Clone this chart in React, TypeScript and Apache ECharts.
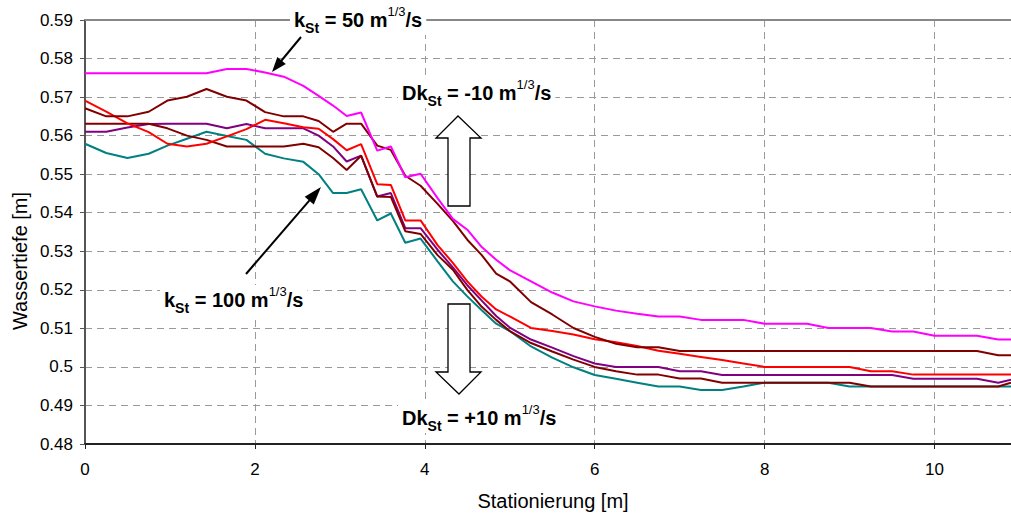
import React, { useEffect, useRef } from "react";
import * as echarts from "echarts";

const FONT = "'Liberation Sans', Arial, sans-serif";

// Stationen entlang der Rinne [m]
const stations = [
  0, 0.25, 0.5, 0.75, 0.97, 1.2, 1.43, 1.67, 1.9, 2.12, 2.34, 2.57, 2.75, 2.92,
  3.08, 3.25, 3.44, 3.6, 3.77, 3.95, 4.15, 4.33, 4.5, 4.67, 4.84, 5.0, 5.25, 5.5,
  5.75, 6.0, 6.25, 6.5, 6.75, 7.0, 7.25, 7.5, 7.75, 8.0, 8.25, 8.5, 8.75, 9.0,
  9.25, 9.5, 9.75, 10.0, 10.25, 10.5, 10.75, 10.9,
];

// Wassertiefen [m], kSt = 50 m^1/3/s
const depthK50 = [
  0.5762, 0.5762, 0.5762, 0.5762, 0.5762, 0.5762, 0.5762, 0.5773, 0.5773, 0.5764,
  0.5753, 0.5729, 0.5703, 0.5678, 0.5651, 0.566, 0.5561, 0.5572, 0.5492, 0.5501,
  0.5438, 0.5384, 0.5356, 0.5311, 0.5278, 0.5251, 0.5222, 0.5193, 0.517, 0.5157,
  0.5146, 0.5138, 0.5131, 0.5131, 0.5122, 0.5122, 0.5122, 0.5112, 0.5112, 0.5112,
  0.5101, 0.5101, 0.5101, 0.5092, 0.5092, 0.5081, 0.5081, 0.5081, 0.5071, 0.5071,
];

// Wassertiefen [m], Variante A (dunkelrot, oben)
const depthVarA = [
  0.5671, 0.565, 0.565, 0.5662, 0.5691, 0.5701, 0.5721, 0.5701, 0.5691, 0.5661,
  0.565, 0.565, 0.5638, 0.561, 0.5631, 0.5631, 0.5574, 0.5563, 0.5496, 0.547,
  0.5423, 0.5379, 0.533, 0.529, 0.5242, 0.5222, 0.5168, 0.5136, 0.5101, 0.5078,
  0.506, 0.5051, 0.5051, 0.5041, 0.5041, 0.5041, 0.5041, 0.5041, 0.5041, 0.5041,
  0.5041, 0.5041, 0.5041, 0.5041, 0.5041, 0.5041, 0.5041, 0.5041, 0.503, 0.503,
];

// Wassertiefen [m], Variante B (rot)
const depthVarB = [
  0.5691, 0.5662, 0.5632, 0.5609, 0.5579, 0.5572, 0.5579, 0.5598, 0.5617, 0.5641,
  0.5632, 0.5622, 0.5618, 0.5591, 0.5562, 0.5578, 0.5474, 0.5472, 0.538, 0.538,
  0.5316, 0.527, 0.5222, 0.5182, 0.5149, 0.5131, 0.5101, 0.5093, 0.5084, 0.5072,
  0.5064, 0.5054, 0.5042, 0.5034, 0.5026, 0.5018, 0.5009, 0.5, 0.5, 0.5,
  0.5, 0.5, 0.4989, 0.4989, 0.498, 0.498, 0.498, 0.498, 0.498, 0.498,
];

// Wassertiefen [m], Variante C (dunkelrot, unten)
const depthVarC = [
  0.5631, 0.5631, 0.5631, 0.5631, 0.5619, 0.56, 0.5589, 0.5572, 0.5572, 0.5572,
  0.5572, 0.5579, 0.557, 0.5542, 0.5511, 0.5548, 0.5442, 0.5441, 0.5352, 0.5345,
  0.529, 0.5252, 0.52, 0.5156, 0.5122, 0.5093, 0.5062, 0.504, 0.5019, 0.5,
  0.4989, 0.498, 0.498, 0.497, 0.497, 0.4959, 0.4959, 0.4959, 0.4959, 0.4959,
  0.4959, 0.4959, 0.4949, 0.4949, 0.4949, 0.4949, 0.4949, 0.4949, 0.4949, 0.4959,
];

// Wassertiefen [m], Variante D (violett)
const depthVarD = [
  0.561, 0.561, 0.5621, 0.563, 0.5631, 0.5631, 0.5631, 0.5619, 0.563, 0.5619,
  0.5619, 0.5619, 0.56, 0.5572, 0.5533, 0.5548, 0.5442, 0.5451, 0.536, 0.536,
  0.5304, 0.5258, 0.5212, 0.5172, 0.5132, 0.5102, 0.5071, 0.505, 0.5028, 0.5009,
  0.5, 0.5, 0.5, 0.4989, 0.4989, 0.4979, 0.4979, 0.4979, 0.4979, 0.4979,
  0.4979, 0.4979, 0.4979, 0.4979, 0.4969, 0.4969, 0.4969, 0.4969, 0.4959, 0.4967,
];

// Wassertiefen [m], kSt = 100 m^1/3/s
const depthK100 = [
  0.5579, 0.5555, 0.5542, 0.5553, 0.5574, 0.5592, 0.561, 0.5599, 0.5589, 0.5553,
  0.5541, 0.5532, 0.55, 0.5451, 0.5451, 0.5461, 0.538, 0.5398, 0.5322, 0.5333,
  0.5274, 0.5222, 0.5183, 0.5147, 0.5112, 0.5093, 0.5053, 0.5024, 0.4999, 0.4979,
  0.4969, 0.4959, 0.4949, 0.4949, 0.494, 0.494, 0.4949, 0.4959, 0.4959, 0.4959,
  0.4959, 0.4949, 0.4949, 0.4949, 0.4949, 0.4949, 0.4949, 0.4949, 0.4949, 0.4949,
];

const seriesDefs = [
  { name: "kSt 100", color: "#008080", data: depthK100 },
  { name: "Variante D", color: "#800080", data: depthVarD },
  { name: "Variante C", color: "#800000", data: depthVarC },
  { name: "Variante B", color: "#FF0000", data: depthVarB },
  { name: "Variante A", color: "#800000", data: depthVarA },
  { name: "kSt 50", color: "#FF00FF", data: depthK50 },
];

const richLabel = {
  m: { fontFamily: FONT, fontSize: 20, fontWeight: "bold", color: "#000", lineHeight: 30, verticalAlign: "middle" },
  sub: { fontFamily: FONT, fontSize: 14, fontWeight: "bold", color: "#000", lineHeight: 14, verticalAlign: "bottom" },
  sup: { fontFamily: FONT, fontSize: 13, color: "#000", lineHeight: 14, verticalAlign: "top" },
};

function label(text: string, x: number, y: number) {
  return {
    type: "text",
    x,
    y,
    z: 100,
    style: {
      text,
      rich: richLabel,
      align: "left",
      verticalAlign: "middle",
      backgroundColor: "#fff",
      padding: [0, 4],
    },
  };
}

function arrow(x1: number, y1: number, x2: number, y2: number, len: number, w: number) {
  const dx = x2 - x1;
  const dy = y2 - y1;
  const d = Math.hypot(dx, dy);
  const ux = dx / d;
  const uy = dy / d;
  const bx = x2 - ux * len;
  const by = y2 - uy * len;
  return [
    {
      type: "line",
      z: 100,
      shape: { x1, y1, x2: bx + ux * 2, y2: by + uy * 2 },
      style: { stroke: "#000", lineWidth: 2 },
    },
    {
      type: "polygon",
      z: 100,
      shape: {
        points: [
          [x2, y2],
          [bx - (uy * w) / 2, by + (ux * w) / 2],
          [bx + (uy * w) / 2, by - (ux * w) / 2],
        ],
      },
      style: { fill: "#000" },
    },
  ];
}

function blockArrow(points: number[][]) {
  return {
    type: "polygon",
    z: 100,
    shape: { points },
    style: { fill: "#fff", stroke: "#000", lineWidth: 1.3 },
  };
}

export default function App() {
  const ref = useRef<HTMLDivElement>(null);

  useEffect(() => {
    if (!ref.current) return;
    const chart = echarts.init(ref.current, null, { renderer: "svg" });

    const gridLine = { show: true, lineStyle: { color: "#9a9a9a", width: 1, type: [7, 5] } };

    chart.setOption({
      animation: false,
      backgroundColor: "#fff",
      textStyle: { fontFamily: FONT },
      grid: { left: 85, right: 0, top: 20, bottom: 71, containLabel: false },
      xAxis: [
        {
          type: "value",
          min: 0,
          max: 10.9,
          interval: 2,
          axisLine: { show: true, onZero: false, lineStyle: { color: "#222", width: 2 } },
          axisTick: { show: true, length: 5, lineStyle: { color: "#222", width: 1 } },
          axisLabel: { fontSize: 17, color: "#000", margin: 17, showMaxLabel: false, fontFamily: FONT },
          splitLine: gridLine,
        },
        {
          type: "value",
          position: "top",
          min: 0,
          max: 10.9,
          axisLine: { show: true, lineStyle: { color: "#888", width: 2 } },
          axisTick: { show: false },
          axisLabel: { show: false },
          splitLine: { show: false },
        },
      ],
      yAxis: {
        type: "value",
        min: 0.48,
        max: 0.59,
        interval: 0.01,
        axisLine: { show: true, lineStyle: { color: "#555", width: 2 } },
        axisTick: { show: true, length: 5, lineStyle: { color: "#555", width: 1 } },
        axisLabel: {
          fontSize: 17,
          color: "#000",
          margin: 12,
          fontFamily: FONT,
          formatter: (v: number) => String(Number(v.toFixed(2))),
        },
        splitLine: gridLine,
      },
      series: seriesDefs.map((s) => ({
        name: s.name,
        type: "line",
        xAxisIndex: 0,
        symbol: "none",
        showSymbol: false,
        lineStyle: { color: s.color, width: 2 },
        itemStyle: { color: s.color },
        data: stations.map((x, i) => [x, s.data[i]]),
      })),
      graphic: [
        {
          type: "text",
          x: 20,
          y: 261,
          rotation: Math.PI / 2,
          z: 100,
          style: { text: "Wassertiefe [m]", fontFamily: FONT, fontSize: 20, fill: "#000", align: "center", verticalAlign: "middle" },
        },
        {
          type: "text",
          x: 553,
          y: 501,
          z: 100,
          style: { text: "Stationierung [m]", fontFamily: FONT, fontSize: 20, fill: "#000", align: "center", verticalAlign: "middle" },
        },
        label("{m|k}{sub|St}{m| = 50 m}{sup|1/3}{m|/s}", 290, 20),
        label("{m|Dk}{sub|St}{m| = -10 m}{sup|1/3}{m|/s}", 398, 93),
        label("{m|k}{sub|St}{m| = 100 m}{sup|1/3}{m|/s}", 160, 300),
        label("{m|Dk}{sub|St}{m| = +10 m}{sup|1/3}{m|/s}", 398, 418),
        ...arrow(301, 37, 272, 72, 15, 11),
        ...arrow(246, 274, 321, 187, 18, 12),
        blockArrow([
          [458, 116], [481, 138], [470, 138], [470, 206], [448, 206], [448, 138], [436, 138],
        ]),
        blockArrow([
          [448, 304], [470, 304], [470, 372], [481, 372], [459, 394], [436, 372], [448, 372],
        ]),
      ],
    });

    return () => chart.dispose();
  }, []);

  return (
    <div
      ref={ref}
      style={{ position: "absolute", left: 0, top: 0, width: 1011, height: 515 }}
    />
  );
}
